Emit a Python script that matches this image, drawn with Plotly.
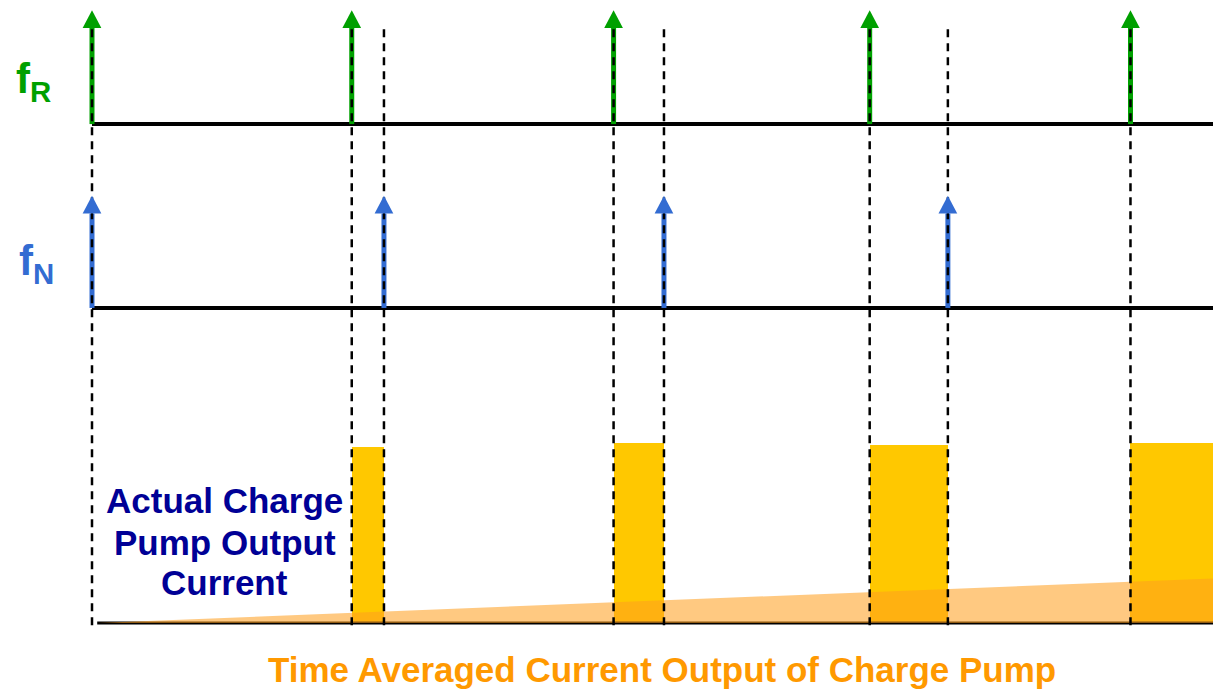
import plotly.graph_objects as go

# ---- data (time in units of reference period, current in units of Icp) ----
fR_times = [0.0, 1.0, 2.008, 2.994, 3.998]
fN_times = [0.0, 1.124, 2.202, 3.295, 4.39]
pulse_heights = [0.0, 0.99, 1.01, 1.0, 1.01]
avg_time = [0.02, 4.35]
avg_current = [0.0, 0.253]

label_fR = "<b>f<sub>R</sub></b>"
label_fN = "<b>f<sub>N</sub></b>"
label_actual = ["<b>Actual Charge</b>", "<b>Pump Output</b>", "<b>Current</b>"]
label_avg = "<b>Time Averaged Current Output of Charge Pump</b>"

# ---- layout constants ----
X_RANGE = [-0.3234, 4.3465]
Y_RANGE = [-0.376, 3.455]
ROW_FR = 2.803
ROW_FN = 1.770
ARROW_H_FR = 0.64
ARROW_H_FN = 0.63
DASH_TOP = 3.34
HEAD_HW = 0.036
HEAD_HH = 0.10
GREEN = "rgb(0,160,0)"
BLUE = "rgb(51,108,210)"
FONT = "Liberation Sans, Arial, sans-serif"

fig = go.Figure()

# charge pump pulses: from fR edge to fN edge
centers = [(a + b) / 2 for a, b in zip(fR_times, fN_times)]
widths = [b - a for a, b in zip(fR_times, fN_times)]
fig.add_trace(go.Bar(x=centers, y=pulse_heights, width=widths, base=0,
                     marker=dict(color="#FFC800", line=dict(width=0)),
                     hoverinfo="skip", showlegend=False))

# baseline of current plot
fig.add_trace(go.Scatter(x=[avg_time[0], X_RANGE[1]], y=[0, 0], mode="lines",
                         line=dict(color="black", width=3), showlegend=False, hoverinfo="skip"))

# time averaged current
fig.add_trace(go.Scatter(x=avg_time, y=avg_current, mode="lines", fill="tozeroy",
                         line=dict(width=0, color="rgba(255,158,30,0)"),
                         fillcolor="rgba(255,158,30,0.56)", showlegend=False, hoverinfo="skip"))

shapes = []
# row baselines
for row in (ROW_FR, ROW_FN):
    shapes.append(dict(type="line", xref="x", yref="y", x0=0, x1=X_RANGE[1], y0=row, y1=row,
                       line=dict(color="black", width=4), layer="above"))

# arrow shafts
for t in fR_times:
    shapes.append(dict(type="line", xref="x", yref="y", x0=t, x1=t, y0=ROW_FR,
                       y1=ROW_FR + ARROW_H_FR - HEAD_HH, line=dict(color=GREEN, width=5), layer="above"))
for t in fN_times:
    if t <= X_RANGE[1]:
        shapes.append(dict(type="line", xref="x", yref="y", x0=t, x1=t, y0=ROW_FN,
                           y1=ROW_FN + ARROW_H_FN - HEAD_HH, line=dict(color=BLUE, width=5), layer="above"))

# dashed timing lines
for t in sorted(set(fR_times + fN_times)):
    if t <= X_RANGE[1]:
        shapes.append(dict(type="line", xref="x", yref="y", x0=t, x1=t, y0=-0.012, y1=DASH_TOP,
                           line=dict(color="black", width=2.5, dash="8px,6px"), layer="above"))

# arrow heads
def head(t, tip, color):
    path = (f"M {t - HEAD_HW} {tip - HEAD_HH} L {t + HEAD_HW} {tip - HEAD_HH} "
            f"L {t} {tip} Z")
    return dict(type="path", xref="x", yref="y", path=path, fillcolor=color,
                line=dict(width=0), layer="above")

for t in fR_times:
    shapes.append(head(t, ROW_FR + ARROW_H_FR, GREEN))
for t in fN_times:
    if t <= X_RANGE[1]:
        shapes.append(head(t, ROW_FN + ARROW_H_FN, BLUE))

annotations = [
    dict(x=-0.302, y=3.04, xref="x", yref="y", text=label_fR, showarrow=False,
         xanchor="left", yanchor="middle", font=dict(family=FONT, size=42, color=GREEN)),
    dict(x=-0.29, y=2.02, xref="x", yref="y", text=label_fN, showarrow=False,
         xanchor="left", yanchor="middle", font=dict(family=FONT, size=42, color=BLUE)),
    dict(x=2.194, y=-0.262, xref="x", yref="y", text=label_avg, showarrow=False,
         xanchor="center", yanchor="middle", font=dict(family=FONT, size=35, color="#FF9900")),
]
for txt, yy in zip(label_actual, [0.691, 0.455, 0.230]):
    annotations.append(dict(x=0.512, y=yy, xref="x", yref="y", text=txt, showarrow=False,
                            xanchor="center", yanchor="middle",
                            font=dict(family=FONT, size=35, color="rgb(0,0,150)")))

fig.update_layout(
    width=1213, height=682, margin=dict(l=0, r=0, t=0, b=0),
    paper_bgcolor="white", plot_bgcolor="white", barmode="overlay", bargap=0,
    xaxis=dict(range=X_RANGE, visible=False, fixedrange=True),
    yaxis=dict(range=Y_RANGE, visible=False, fixedrange=True),
    shapes=shapes, annotations=annotations, showlegend=False,
)

fig.write_html("out.html")
